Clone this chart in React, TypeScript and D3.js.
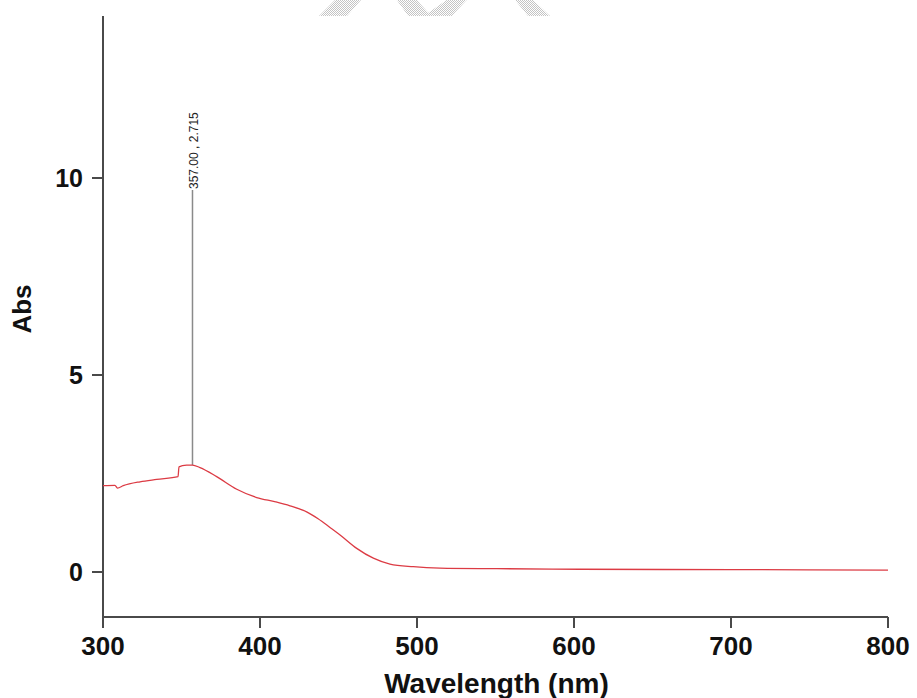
import React from "react";
import * as d3 from "d3";

const wavelength = [300, 307.6, 309.2, 312.9, 323.6, 334.2, 347.8, 348.4, 353.3, 357, 361.8, 372.4, 385.2, 397.9, 410, 419.1, 430, 437, 444.6, 451, 461.6, 472.2, 482.8, 497.6, 514.6, 550.8, 603.8, 700, 800];
const absorbance = [2.19, 2.2, 2.13, 2.19, 2.29, 2.35, 2.42, 2.67, 2.71, 2.715, 2.65, 2.42, 2.1, 1.89, 1.78, 1.68, 1.52, 1.35, 1.13, 0.94, 0.6, 0.35, 0.2, 0.135, 0.1, 0.085, 0.07, 0.06, 0.05];
const xTicks = [300, 400, 500, 600, 700, 800];
const yTicks = [0, 5, 10];
const peak = { x: 357, y: 2.715, label: "357.00 , 2.715" };
const xTitle = "Wavelength (nm)";
const yTitle = "Abs";

export default function App() {
  const W = 917, H = 698;
  const left = 103, right = 888, top = 16, bottom = 617;
  const x = d3.scaleLinear().domain([300, 800]).range([left, right]);
  const y0 = 572, y10 = 178;
  const per = (y0 - y10) / 10;
  const y = d3.scaleLinear().domain([(y0 - bottom) / per, (y0 - top) / per]).range([bottom, top]);
  const pts = wavelength.map((w, i) => [w, absorbance[i]] as [number, number]);
  const line = d3.line<[number, number]>().x(d => x(d[0])).y(d => y(d[1])).curve(d3.curveMonotoneX);
  const axisColor = "#4a4a4a";
  const font = "'Liberation Sans', Arial, Helvetica, sans-serif";
  return (
    <svg width={W} height={H} style={{ position: "absolute", left: 0, top: 0, background: "#fff" }}>
      <defs>
        <pattern id="dither" width="2" height="2" patternUnits="userSpaceOnUse">
          <rect width="2" height="2" fill="#ffffff" />
          <rect width="1" height="1" fill="#c4c4c4" />
          <rect x="1" y="1" width="1" height="1" fill="#c4c4c4" />
        </pattern>
      </defs>
      {/* watermark fragments */}
      <polygon points="335,0 361,0 347,16 319,16" fill="url(#dither)" />
      <polygon points="396.7,0 416.7,0 428.3,12.7 446.7,0 466.7,0 451.7,16 408.3,16" fill="url(#dither)" />
      <polygon points="515,0 533,0 550,16 528,16" fill="url(#dither)" />

      {/* axes */}
      <line x1={left} x2={left} y1={top} y2={bottom + 11} stroke={axisColor} strokeWidth={2} />
      <line x1={left} x2={right} y1={bottom} y2={bottom} stroke={axisColor} strokeWidth={2} />
      {xTicks.map(t => (
        <g key={t}>
          <line x1={x(t)} x2={x(t)} y1={bottom} y2={bottom + 11} stroke={axisColor} strokeWidth={2} />
          <text x={x(t)} y={655} textAnchor="middle" fontFamily={font} fontWeight="bold" fontSize={26} fill="#111">{t}</text>
        </g>
      ))}
      {yTicks.map(t => (
        <g key={t}>
          <line x1={left - 11} x2={left} y1={y(t)} y2={y(t)} stroke={axisColor} strokeWidth={2} />
          <text x={left - 20} y={y(t)} dy="0.36em" textAnchor="end" fontFamily={font} fontWeight="bold" fontSize={25} fill="#111">{t}</text>
        </g>
      ))}
      <text x={(left + right) / 2 + 1} y={693} textAnchor="middle" fontFamily={font} fontWeight="bold" fontSize={28} fill="#111">{xTitle}</text>
      <text transform={`translate(31,${309}) rotate(-90)`} textAnchor="middle" fontFamily={font} fontWeight="bold" fontSize={26} fill="#111">{yTitle}</text>

      {/* peak marker */}
      <line x1={x(peak.x)} x2={x(peak.x)} y1={y(peak.y)} y2={190} stroke="#8a8a8a" strokeWidth={1.5} />
      <text transform={`translate(${x(peak.x) + 2},189) rotate(-90)`} dominantBaseline="central" fontFamily={font} fontSize={12} fill="#222">{peak.label}</text>

      {/* spectrum */}
      <path d={line(pts) || ""} fill="none" stroke="#dc3b44" strokeWidth={1.3} />
    </svg>
  );
}
